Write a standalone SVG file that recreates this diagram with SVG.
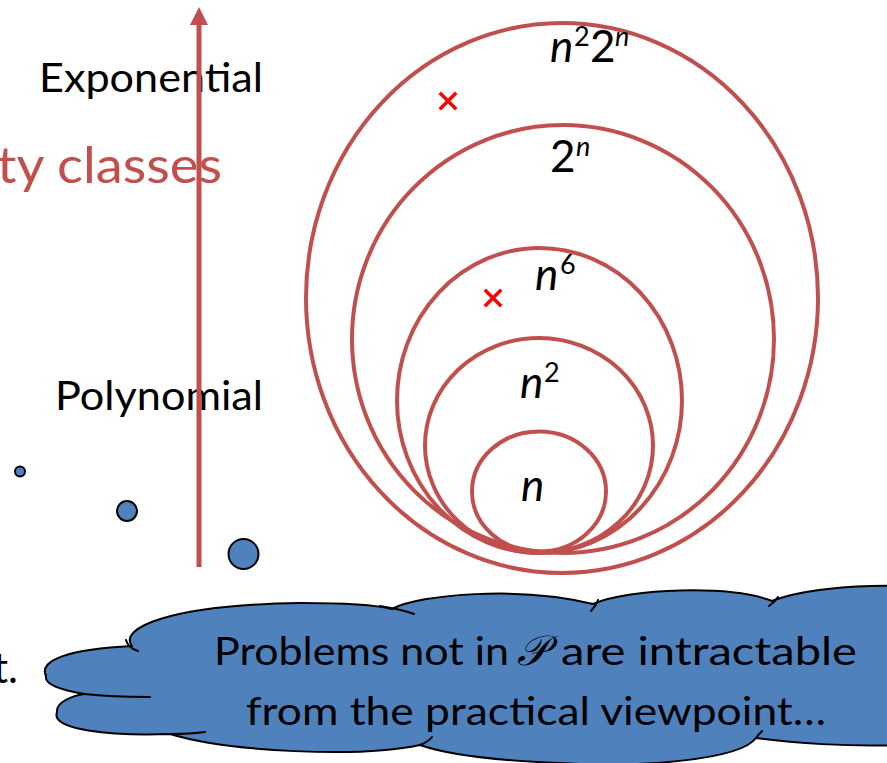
<svg xmlns="http://www.w3.org/2000/svg" width="887" height="763" viewBox="0 0 887 763">
<defs>
<style>
.ring{fill:none;stroke:#C0504D;stroke-width:4}
.lbl{font-family:Lato,"Open Sans","Liberation Sans",sans-serif;fill:#000}
.it{font-style:italic}
.cross{stroke:#FF0000;stroke-width:3.5;stroke-linecap:square}
.dot{fill:#4F81BD;stroke:#000;stroke-width:2}
.cloud{fill:#4F81BD;stroke:#000;stroke-width:2;stroke-linejoin:round}
.hook{fill:none;stroke:#000;stroke-width:2;stroke-linecap:round}
</style>
</defs>
<rect width="887" height="763" fill="#fff"/>
<g id="title">
<text class="lbl" x="-3" y="183" font-size="50" style="fill:#C0504D" textLength="225" lengthAdjust="spacingAndGlyphs">ty classes</text>
</g>
<g id="label-exponential"><text class="lbl" x="39" y="92" font-size="40" textLength="224" lengthAdjust="spacingAndGlyphs">Exponential</text></g>
<g id="label-polynomial"><text class="lbl" x="55" y="410" font-size="40" textLength="208" lengthAdjust="spacingAndGlyphs">Polynomial</text></g>
<g id="ring-n22n">
<ellipse class="ring" cx="562" cy="298" rx="256" ry="275"/>
<text class="lbl" y="62" font-size="44"><tspan class="it" x="550">n</tspan><tspan x="574" y="46" font-size="27">2</tspan><tspan x="590" y="62">2</tspan><tspan class="it" x="615" y="46" font-size="27">n</tspan></text>
</g>
<g id="ring-2n">
<ellipse class="ring" cx="563" cy="339" rx="211" ry="214"/>
<text class="lbl" y="172" font-size="44"><tspan x="550">2</tspan><tspan class="it" x="576" y="156" font-size="27">n</tspan></text>
</g>
<g id="ring-n6">
<ellipse class="ring" cx="539.5" cy="400.5" rx="142.5" ry="152.5"/>
<text class="lbl" y="290" font-size="44"><tspan class="it" x="535">n</tspan><tspan x="560" y="274" font-size="27">6</tspan></text>
</g>
<g id="ring-n2">
<ellipse class="ring" cx="539" cy="445.5" rx="114" ry="107.5"/>
<text class="lbl" y="398" font-size="44"><tspan class="it" x="520">n</tspan><tspan x="544" y="382" font-size="27">2</tspan></text>
</g>
<g id="ring-n">
<ellipse class="ring" cx="539" cy="491.5" rx="67" ry="60"/>
<text class="lbl it" x="521" y="501" font-size="44">n</text>
</g>
<g id="cross-1"><path class="cross" d="M441,94 L455,108 M455,94 L441,108"/></g>
<g id="cross-2"><path class="cross" d="M486,291 L500,305 M500,291 L486,305"/></g>
<g id="dot-small"><circle class="dot" cx="20" cy="471.5" r="5"/></g>
<g id="dot-medium"><circle class="dot" cx="127" cy="511" r="10"/></g>
<g id="dot-large"><circle class="dot" cx="243.5" cy="554" r="15"/></g>
<g id="connectors">
<line x1="199" y1="567" x2="199" y2="22" stroke="#C0504D" stroke-width="5"/>
<polygon points="199,7 190,25 208,25" fill="#C0504D"/>
</g>
<g id="text-t"><text class="lbl" x="18" y="683" font-size="42" text-anchor="end">t.</text></g>
<g id="cloud">
<path class="cloud" d="M46,676 C38,660 70,649 132,646 C118,628 170,605 300,603 C350,603 380,606 392,609 C420,594 520,586 593,604 C630,588 730,585 772,601 C800,590 850,585 900,586 L900,745 C850,747 790,743 756,738 C740,760 640,768 560,763 C480,760 440,752 420,745 C360,758 230,752 170,734 C110,736 50,730 57,712 C56,702 72,696 84,694 C62,690 44,685 46,676 Z"/>
<path class="hook" d="M126,640 Q128,648 138,651 M380,606 Q400,609 414,614 M598,600 Q596,606 591,611 M778,597 Q775,602 769,606 M84,694 Q110,697 150,697 M170,734 Q190,734 205,732 M420,745 Q428,742 432,737 M756,738 Q758,735 762,731"/>
<text class="lbl" y="665" font-size="38"><tspan x="214" textLength="295" lengthAdjust="spacingAndGlyphs">Problems not in</tspan><tspan x="517" font-size="42" font-family="'DejaVu Serif','DejaVu Sans',serif" font-style="italic">𝒫</tspan><tspan x="561" textLength="296" lengthAdjust="spacingAndGlyphs">are intractable</tspan></text>
<text class="lbl" x="246" y="725" font-size="38" textLength="580" lengthAdjust="spacingAndGlyphs">from the practical viewpoint…</text>
</g>
</svg>
